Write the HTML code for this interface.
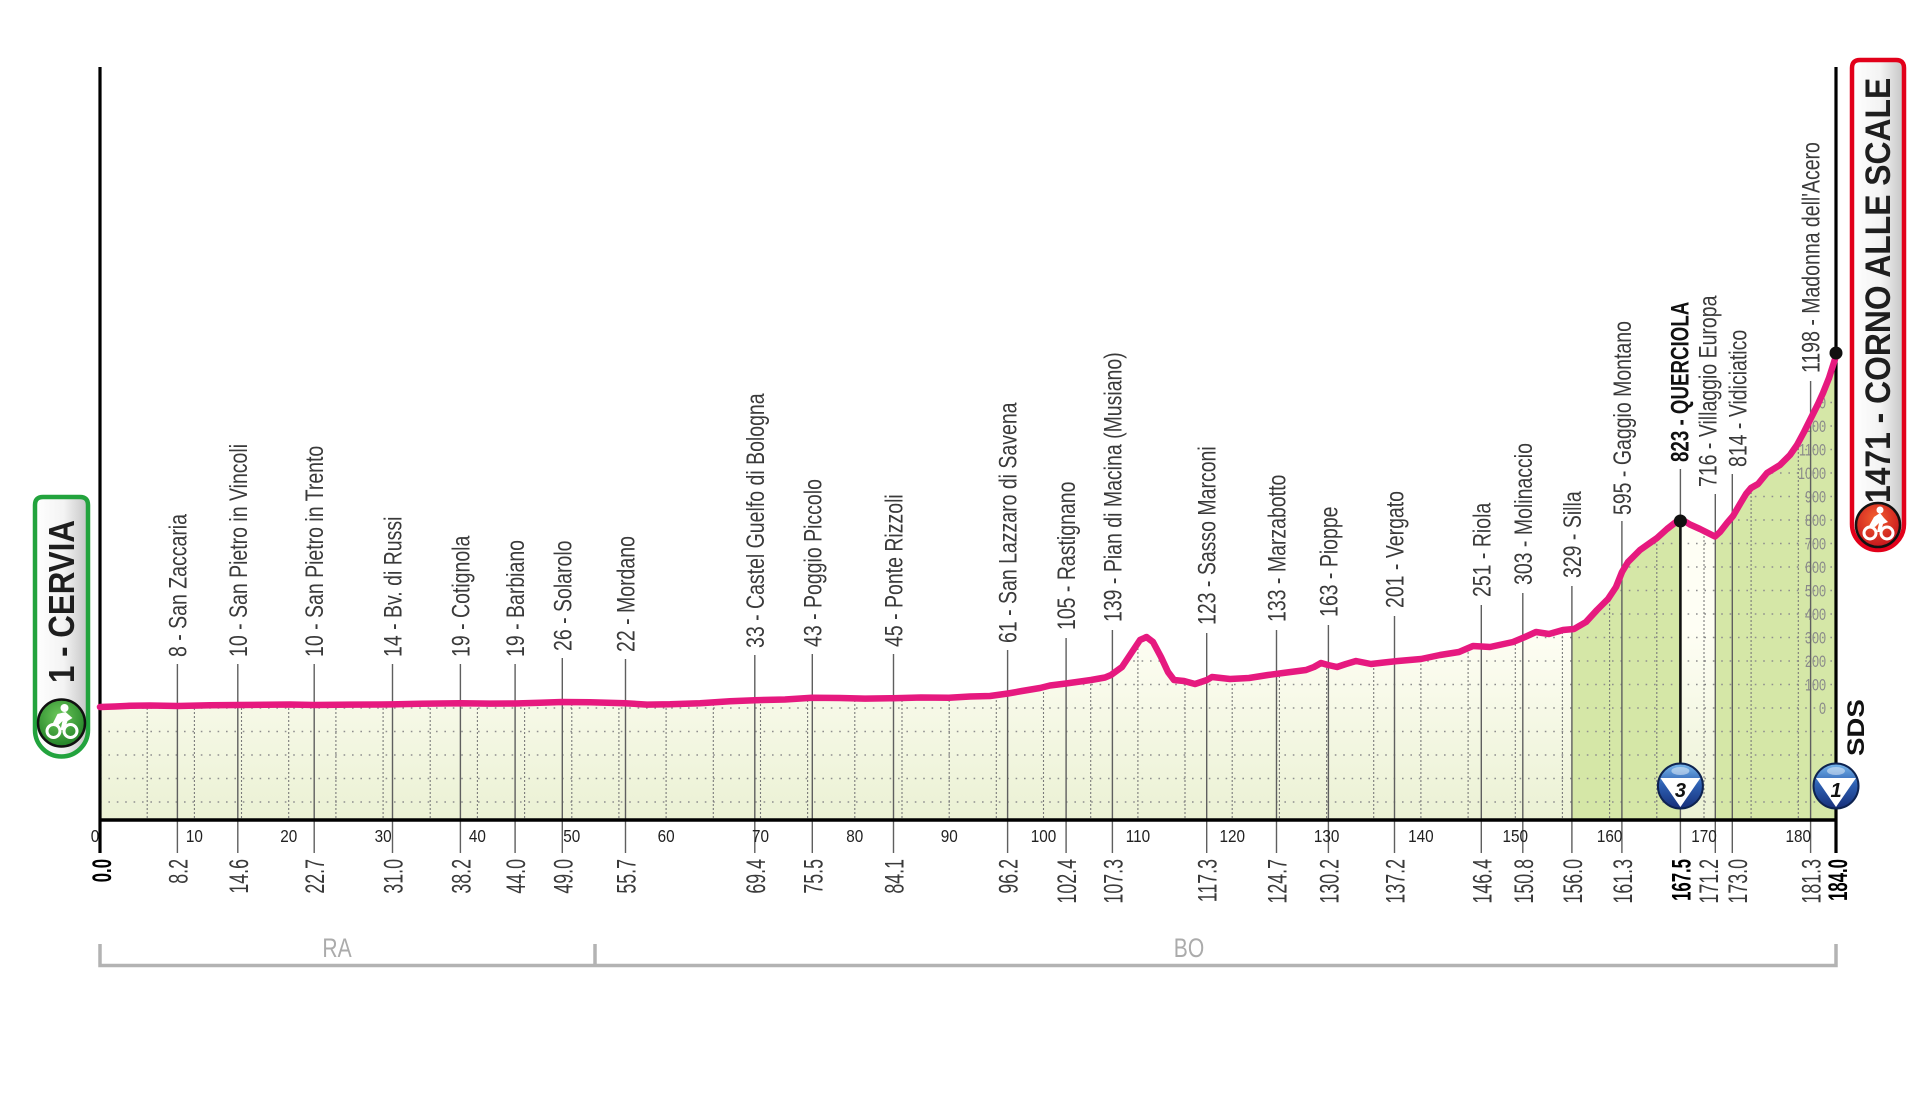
<!DOCTYPE html>
<html><head><meta charset="utf-8"><style>
html,body{margin:0;padding:0;background:#fff;}
svg{display:block;}
text{font-family:"Liberation Sans",Arial,sans-serif;}
.wp{font-size:25px;fill:#3a3a3a;}
.wpb{font-size:25px;fill:#111;font-weight:bold;}
.km{font-size:27px;fill:#3a3a3a;}
.kmb{font-size:27px;fill:#000;font-weight:bold;}
.tk{font-size:18px;fill:#222;}
.el{font-size:17px;fill:#8a8a8a;}
.reg{font-size:27px;fill:#ababab;}
</style></head><body>
<svg width="1920" height="1097" viewBox="0 0 1920 1097" xmlns="http://www.w3.org/2000/svg">
<defs>
<linearGradient id="cream" gradientUnits="userSpaceOnUse" x1="0" y1="630" x2="0" y2="820">
<stop offset="0" stop-color="#fefef4"/><stop offset="1" stop-color="#ebf1d4"/></linearGradient>
<linearGradient id="boxg" x1="0" y1="0" x2="1" y2="0">
<stop offset="0" stop-color="#ffffff"/><stop offset="0.55" stop-color="#f3f3f3"/><stop offset="1" stop-color="#c4c4c4"/></linearGradient>
<radialGradient id="gcir" cx="0.45" cy="0.35" r="0.7"><stop offset="0" stop-color="#6cc85a"/><stop offset="1" stop-color="#1d7d24"/></radialGradient>
<radialGradient id="rcir" cx="0.45" cy="0.35" r="0.7"><stop offset="0" stop-color="#f4602f"/><stop offset="1" stop-color="#c3101c"/></radialGradient>
<linearGradient id="bcir" x1="0" y1="0" x2="0" y2="1"><stop offset="0" stop-color="#7ab8ec"/><stop offset="0.45" stop-color="#2e62b4"/><stop offset="1" stop-color="#172f7a"/></linearGradient>
<clipPath id="fillclip"><path id="fp" d="M100,707 L115,706.5 L130,705.8 L150,705.5 L178,706 L210,705.3 L238,705 L265,704.8 L290,704.5 L314,705 L350,704.6 L392,704.4 L420,703.8 L460,703.3 L490,703.6 L515,703.5 L540,702.8 L562,702 L590,702.3 L625,703.2 L647,704.6 L670,704.3 L700,703.2 L730,701.3 L755,700.2 L785,699.5 L812,697.8 L840,698 L865,698.6 L893,698.2 L921,697.5 L949,697.8 L970,696.5 L990,696 L1008,693.5 L1022,691 L1040,688 L1050,685.5 L1066,683.5 L1091,680 L1105,677.5 L1111,675 L1122,667 L1132,652 L1140,640 L1146.5,637 L1153,642 L1161,657 L1168,672 L1174,680 L1184,681 L1195,684 L1207,680 L1212,677 L1230,679 L1249,678 L1268,675 L1283,673 L1306,670 L1314,667 L1321,663 L1328,665 L1337,667 L1346,664 L1356,661 L1371,664 L1384,662.5 L1398,661 L1421,659 L1440,655 L1459,652 L1473,646 L1490,647 L1513,642 L1525,637 L1536,632 L1549,634 L1563,630 L1574,629 L1586,622 L1597,610 L1608,599 L1616,587 L1622,572 L1628,562 L1640,550 L1657,538 L1667,529 L1676,522 L1681,519 L1690,524.5 L1700,529 L1710,534 L1715,536.5 L1720,532 L1727,523 L1733,516 L1740,504 L1746,494 L1751,488 L1758,484 L1767,473 L1780,465 L1790,455 L1797,445 L1804,432 L1811,418 L1818,404 L1823,393 L1829,378 L1836,356 L1836,820 L100,820 Z"/></clipPath>
</defs>

<!-- fill -->
<path d="M100,707 L115,706.5 L130,705.8 L150,705.5 L178,706 L210,705.3 L238,705 L265,704.8 L290,704.5 L314,705 L350,704.6 L392,704.4 L420,703.8 L460,703.3 L490,703.6 L515,703.5 L540,702.8 L562,702 L590,702.3 L625,703.2 L647,704.6 L670,704.3 L700,703.2 L730,701.3 L755,700.2 L785,699.5 L812,697.8 L840,698 L865,698.6 L893,698.2 L921,697.5 L949,697.8 L970,696.5 L990,696 L1008,693.5 L1022,691 L1040,688 L1050,685.5 L1066,683.5 L1091,680 L1105,677.5 L1111,675 L1122,667 L1132,652 L1140,640 L1146.5,637 L1153,642 L1161,657 L1168,672 L1174,680 L1184,681 L1195,684 L1207,680 L1212,677 L1230,679 L1249,678 L1268,675 L1283,673 L1306,670 L1314,667 L1321,663 L1328,665 L1337,667 L1346,664 L1356,661 L1371,664 L1384,662.5 L1398,661 L1421,659 L1440,655 L1459,652 L1473,646 L1490,647 L1513,642 L1525,637 L1536,632 L1549,634 L1563,630 L1574,629 L1586,622 L1597,610 L1608,599 L1616,587 L1622,572 L1628,562 L1640,550 L1657,538 L1667,529 L1676,522 L1681,519 L1690,524.5 L1700,529 L1710,534 L1715,536.5 L1720,532 L1727,523 L1733,516 L1740,504 L1746,494 L1751,488 L1758,484 L1767,473 L1780,465 L1790,455 L1797,445 L1804,432 L1811,418 L1818,404 L1823,393 L1829,378 L1836,356 L1836,820 L100,820 Z" fill="url(#cream)"/>
<g clip-path="url(#fillclip)">
<rect x="1572" y="300" width="108.5" height="520" fill="#d5e7a7"/>
<rect x="1715" y="300" width="121" height="520" fill="#d5e7a7"/>
<path d="M100,802H1836M100,778.5H1836M100,755H1836M100,731.5H1836M100,708H1836M100,684.5H1836M100,661H1836M100,637.5H1836M100,614H1836M100,590.5H1836M100,567H1836M100,543.5H1836M100,520H1836M100,496.5H1836M100,473H1836M100,449.5H1836M100,426H1836M100,402.5H1836M100,379H1836" stroke="#8f8f8f" stroke-width="1.6" stroke-dasharray="1.6 6.8" fill="none"/>
<path d="M147.2,340V820M194.4,340V820M241.5,340V820M288.7,340V820M335.9,340V820M383.1,340V820M430.2,340V820M477.4,340V820M524.6,340V820M571.8,340V820M618.9,340V820M666.1,340V820M713.3,340V820M760.5,340V820M807.6,340V820M854.8,340V820M902,340V820M949.2,340V820M996.3,340V820M1043.5,340V820M1090.7,340V820M1137.9,340V820M1185,340V820M1232.2,340V820M1279.4,340V820M1326.6,340V820M1373.7,340V820M1420.9,340V820M1468.1,340V820M1515.3,340V820M1562.4,340V820M1609.6,340V820M1656.8,340V820M1704,340V820M1751.1,340V820M1798.3,340V820" stroke="#7a7a7a" stroke-width="1.1" stroke-dasharray="2 2" fill="none"/>
<g class="el" text-anchor="end">
<text transform="translate(1826,714) scale(0.74,1)">0</text>
<text transform="translate(1826,690.5) scale(0.74,1)">100</text>
<text transform="translate(1826,667) scale(0.74,1)">200</text>
<text transform="translate(1826,643.5) scale(0.74,1)">300</text>
<text transform="translate(1826,620) scale(0.74,1)">400</text>
<text transform="translate(1826,596.5) scale(0.74,1)">500</text>
<text transform="translate(1826,573) scale(0.74,1)">600</text>
<text transform="translate(1826,549.5) scale(0.74,1)">700</text>
<text transform="translate(1826,526) scale(0.74,1)">800</text>
<text transform="translate(1826,502.5) scale(0.74,1)">900</text>
<text transform="translate(1826,479) scale(0.74,1)">1000</text>
<text transform="translate(1826,455.5) scale(0.74,1)">1100</text>
<text transform="translate(1826,432) scale(0.74,1)">1200</text>
<text transform="translate(1826,408.5) scale(0.74,1)">1300</text>
<text transform="translate(1826,385) scale(0.74,1)">1400</text>
</g>
</g>

<!-- waypoint lines -->
<g stroke="#5f5f5f" stroke-width="1.4" fill="none">
<path d="M177.4,664V853M237.8,664V853M314.2,664V853M392.5,664V853M460.4,664V853M515.1,664V853M562.3,658V853M625.5,659V853M754.8,655V853M812.3,654V853M893.5,654V853M1007.6,650V853M1066.1,638V853M1112.4,630V853M1206.7,633V853M1276.5,630V853M1328.4,625V853M1394.5,616V853M1481.3,605V853M1522.8,593V853M1571.9,586V853M1621.9,521V853M1680.4,469V853M1715.3,494V853M1732.3,474V853M1810.6,381V853"/>
</g>

<!-- km tick labels -->
<g class="tk" text-anchor="middle">
<text transform="translate(95,842) scale(0.85,1)">0</text>
<text transform="translate(194.4,842) scale(0.85,1)">10</text>
<text transform="translate(288.7,842) scale(0.85,1)">20</text>
<text transform="translate(383.1,842) scale(0.85,1)">30</text>
<text transform="translate(477.4,842) scale(0.85,1)">40</text>
<text transform="translate(571.8,842) scale(0.85,1)">50</text>
<text transform="translate(666.1,842) scale(0.85,1)">60</text>
<text transform="translate(760.5,842) scale(0.85,1)">70</text>
<text transform="translate(854.8,842) scale(0.85,1)">80</text>
<text transform="translate(949.2,842) scale(0.85,1)">90</text>
<text transform="translate(1043.5,842) scale(0.85,1)">100</text>
<text transform="translate(1137.9,842) scale(0.85,1)">110</text>
<text transform="translate(1232.2,842) scale(0.85,1)">120</text>
<text transform="translate(1326.6,842) scale(0.85,1)">130</text>
<text transform="translate(1420.9,842) scale(0.85,1)">140</text>
<text transform="translate(1515.3,842) scale(0.85,1)">150</text>
<text transform="translate(1609.6,842) scale(0.85,1)">160</text>
<text transform="translate(1704,842) scale(0.85,1)">170</text>
<text transform="translate(1798.3,842) scale(0.85,1)">180</text>
</g>

<!-- axes -->
<path d="M100,67V853M1836,67V853" stroke="#000" stroke-width="3.2" fill="none"/>
<path d="M98.5,820H1837.5" stroke="#000" stroke-width="3.4" fill="none"/>

<!-- querciola black line -->
<path d="M1680.4,521V770" stroke="#111" stroke-width="2.6"/>

<!-- profile -->
<path d="M100,707 L115,706.5 L130,705.8 L150,705.5 L178,706 L210,705.3 L238,705 L265,704.8 L290,704.5 L314,705 L350,704.6 L392,704.4 L420,703.8 L460,703.3 L490,703.6 L515,703.5 L540,702.8 L562,702 L590,702.3 L625,703.2 L647,704.6 L670,704.3 L700,703.2 L730,701.3 L755,700.2 L785,699.5 L812,697.8 L840,698 L865,698.6 L893,698.2 L921,697.5 L949,697.8 L970,696.5 L990,696 L1008,693.5 L1022,691 L1040,688 L1050,685.5 L1066,683.5 L1091,680 L1105,677.5 L1111,675 L1122,667 L1132,652 L1140,640 L1146.5,637 L1153,642 L1161,657 L1168,672 L1174,680 L1184,681 L1195,684 L1207,680 L1212,677 L1230,679 L1249,678 L1268,675 L1283,673 L1306,670 L1314,667 L1321,663 L1328,665 L1337,667 L1346,664 L1356,661 L1371,664 L1384,662.5 L1398,661 L1421,659 L1440,655 L1459,652 L1473,646 L1490,647 L1513,642 L1525,637 L1536,632 L1549,634 L1563,630 L1574,629 L1586,622 L1597,610 L1608,599 L1616,587 L1622,572 L1628,562 L1640,550 L1657,538 L1667,529 L1676,522 L1681,519 L1690,524.5 L1700,529 L1710,534 L1715,536.5 L1720,532 L1727,523 L1733,516 L1740,504 L1746,494 L1751,488 L1758,484 L1767,473 L1780,465 L1790,455 L1797,445 L1804,432 L1811,418 L1818,404 L1823,393 L1829,378 L1836,356" fill="none" stroke="#e6197f" stroke-width="6.5" stroke-linejoin="round" stroke-linecap="round"/>
<circle cx="1680.4" cy="521" r="6.5" fill="#111"/>
<circle cx="1836" cy="353" r="6.5" fill="#111"/>

<!-- waypoint labels -->
<g class="wp">
<text transform="translate(186.4,657) rotate(-90) scale(0.78,1)">8 - San Zaccaria</text>
<text transform="translate(246.8,657) rotate(-90) scale(0.78,1)">10 - San Pietro in Vincoli</text>
<text transform="translate(323.2,657) rotate(-90) scale(0.78,1)">10 - San Pietro in Trento</text>
<text transform="translate(401.5,657) rotate(-90) scale(0.78,1)">14 - Bv. di Russi</text>
<text transform="translate(469.4,657) rotate(-90) scale(0.78,1)">19 - Cotignola</text>
<text transform="translate(524.1,657) rotate(-90) scale(0.78,1)">19 - Barbiano</text>
<text transform="translate(571.3,651) rotate(-90) scale(0.78,1)">26 - Solarolo</text>
<text transform="translate(634.5,652) rotate(-90) scale(0.78,1)">22 - Mordano</text>
<text transform="translate(763.8,648) rotate(-90) scale(0.78,1)">33 - Castel Guelfo di Bologna</text>
<text transform="translate(821.3,647) rotate(-90) scale(0.78,1)">43 - Poggio Piccolo</text>
<text transform="translate(902.5,647) rotate(-90) scale(0.78,1)">45 - Ponte Rizzoli</text>
<text transform="translate(1016.6,643) rotate(-90) scale(0.78,1)">61 - San Lazzaro di Savena</text>
<text transform="translate(1075.1,630) rotate(-90) scale(0.78,1)">105 - Rastignano</text>
<text transform="translate(1121.4,622) rotate(-90) scale(0.78,1)">139 - Pian di Macina (Musiano)</text>
<text transform="translate(1215.7,625) rotate(-90) scale(0.78,1)">123 - Sasso Marconi</text>
<text transform="translate(1285.5,622) rotate(-90) scale(0.78,1)">133 - Marzabotto</text>
<text transform="translate(1337.4,617) rotate(-90) scale(0.78,1)">163 - Pioppe</text>
<text transform="translate(1403.5,608) rotate(-90) scale(0.78,1)">201 - Vergato</text>
<text transform="translate(1490.3,597) rotate(-90) scale(0.78,1)">251 - Riola</text>
<text transform="translate(1531.8,585) rotate(-90) scale(0.78,1)">303 - Molinaccio</text>
<text transform="translate(1580.9,578) rotate(-90) scale(0.78,1)">329 - Silla</text>
<text transform="translate(1630.9,515) rotate(-90) scale(0.78,1)">595 - Gaggio Montano</text>
<text transform="translate(1716.5,487) rotate(-90) scale(0.78,1)">716 - Villaggio Europa</text>
<text transform="translate(1746.5,467) rotate(-90) scale(0.78,1)">814 - Vidiciatico</text>
<text transform="translate(1819.6,373) rotate(-90) scale(0.78,1)">1198 - Madonna dell'Acero</text>
</g>
<text class="wpb" transform="translate(1688.4,462) rotate(-90) scale(0.75,1)">823 - QUERCIOLA</text>

<!-- km labels -->
<g class="km" text-anchor="end">
<text transform="translate(187.4,859) rotate(-90) scale(0.66,1)">8.2</text>
<text transform="translate(247.8,859) rotate(-90) scale(0.66,1)">14.6</text>
<text transform="translate(324.2,859) rotate(-90) scale(0.66,1)">22.7</text>
<text transform="translate(402.5,859) rotate(-90) scale(0.66,1)">31.0</text>
<text transform="translate(470.4,859) rotate(-90) scale(0.66,1)">38.2</text>
<text transform="translate(525.1,859) rotate(-90) scale(0.66,1)">44.0</text>
<text transform="translate(572.3,859) rotate(-90) scale(0.66,1)">49.0</text>
<text transform="translate(635.5,859) rotate(-90) scale(0.66,1)">55.7</text>
<text transform="translate(764.8,859) rotate(-90) scale(0.66,1)">69.4</text>
<text transform="translate(822.3,859) rotate(-90) scale(0.66,1)">75.5</text>
<text transform="translate(903.5,859) rotate(-90) scale(0.66,1)">84.1</text>
<text transform="translate(1017.6,859) rotate(-90) scale(0.66,1)">96.2</text>
<text transform="translate(1076.1,859) rotate(-90) scale(0.66,1)">102.4</text>
<text transform="translate(1122.4,859) rotate(-90) scale(0.66,1)">107.3</text>
<text transform="translate(1216.7,859) rotate(-90) scale(0.66,1)">117.3</text>
<text transform="translate(1286.5,859) rotate(-90) scale(0.66,1)">124.7</text>
<text transform="translate(1338.4,859) rotate(-90) scale(0.66,1)">130.2</text>
<text transform="translate(1404.5,859) rotate(-90) scale(0.66,1)">137.2</text>
<text transform="translate(1491.3,859) rotate(-90) scale(0.66,1)">146.4</text>
<text transform="translate(1532.8,859) rotate(-90) scale(0.66,1)">150.8</text>
<text transform="translate(1581.9,859) rotate(-90) scale(0.66,1)">156.0</text>
<text transform="translate(1631.9,859) rotate(-90) scale(0.66,1)">161.3</text>
<text transform="translate(1718,859) rotate(-90) scale(0.66,1)">171.2</text>
<text transform="translate(1747,859) rotate(-90) scale(0.66,1)">173.0</text>
<text transform="translate(1820.6,859) rotate(-90) scale(0.66,1)">181.3</text>
</g>
<g class="kmb" text-anchor="end">
<text transform="translate(111,859) rotate(-90) scale(0.62,1)">0.0</text>
<text transform="translate(1690.4,859) rotate(-90) scale(0.62,1)">167.5</text>
<text transform="translate(1847,859) rotate(-90) scale(0.62,1)">184.0</text>
</g>

<!-- KOM badges -->
<g>
<circle cx="1680.4" cy="786" r="22.5" fill="url(#bcir)" stroke="#0e2350" stroke-width="2"/>
<ellipse cx="1680.4" cy="771" rx="9" ry="4" fill="#ffffff" opacity="0.45"/>
<polygon points="1660.4,778 1700.4,778 1680.4,807" fill="#fff"/>
<text x="1680.4" y="797" text-anchor="middle" font-size="20" font-weight="bold" font-style="italic" fill="#111">3</text>
<circle cx="1836" cy="786" r="22.5" fill="url(#bcir)" stroke="#0e2350" stroke-width="2"/>
<ellipse cx="1836" cy="771" rx="9" ry="4" fill="#ffffff" opacity="0.45"/>
<polygon points="1816,778 1856,778 1836,807" fill="#fff"/>
<text x="1836" y="797" text-anchor="middle" font-size="20" font-weight="bold" font-style="italic" fill="#111">1</text>
</g>

<!-- SDS -->
<text transform="translate(1864,756) rotate(-90) scale(1.15,1)" font-size="24" font-weight="bold" fill="#111">SDS</text>

<!-- region bar -->
<path d="M100,944V965.5H1836V944M595,944V965.5" stroke="#b3b3b3" stroke-width="3.5" fill="none"/>
<text class="reg" text-anchor="middle" transform="translate(337,957) scale(0.78,1)">RA</text>
<text class="reg" text-anchor="middle" transform="translate(1189,957) scale(0.78,1)">BO</text>

<!-- start box -->
<path d="M43,497 H80 Q88,497 88,505 V730 A26.5,26.5 0 0 1 35,730 V505 Q35,497 43,497 Z" fill="url(#boxg)" stroke="#22a33d" stroke-width="4.5"/>
<text transform="translate(74,683) rotate(-90) scale(0.87,1)" font-size="36" font-weight="bold" fill="#1e1e1e">1 - CERVIA</text>
<g transform="translate(61.5,723)">
<circle r="23.5" fill="url(#gcir)" stroke="#111" stroke-width="2.5"/>
<circle cx="-8" cy="8" r="6.5" fill="none" stroke="#fff" stroke-width="3"/>
<circle cx="9" cy="8" r="6.5" fill="none" stroke="#fff" stroke-width="3"/>
<path d="M-9,1 L-4,-9 L4,-11 L11,-5 L6,-2 L3,7 L-1,7 L1,-2 L-3,2 Z" fill="#fff"/>
<circle cx="3" cy="-15" r="4" fill="#fff"/>
</g>

<!-- finish box -->
<path d="M1860,60 H1896 Q1904,60 1904,68 V524 A26,26 0 0 1 1852,524 V68 Q1852,60 1860,60 Z" fill="url(#boxg)" stroke="#e2001a" stroke-width="4.5"/>
<text transform="translate(1890,503) rotate(-90) scale(0.91,1)" font-size="35" font-weight="bold" fill="#1e1e1e">1471 - CORNO ALLE SCALE</text>
<g transform="translate(1878,525)">
<circle r="22" fill="url(#rcir)" stroke="#111" stroke-width="2.5"/>
<circle cx="-8" cy="8" r="6" fill="none" stroke="#fff" stroke-width="3"/>
<circle cx="9" cy="8" r="6" fill="none" stroke="#fff" stroke-width="3"/>
<path d="M-9,1 L-4,-8 L2,-12 L6,-7 L10,-3 L5,-1 L3,7 L-1,7 L1,-2 L-3,2 Z" fill="#fff"/>
<circle cx="2" cy="-15" r="3.5" fill="#fff"/>
</g>
</svg>
</body></html>
